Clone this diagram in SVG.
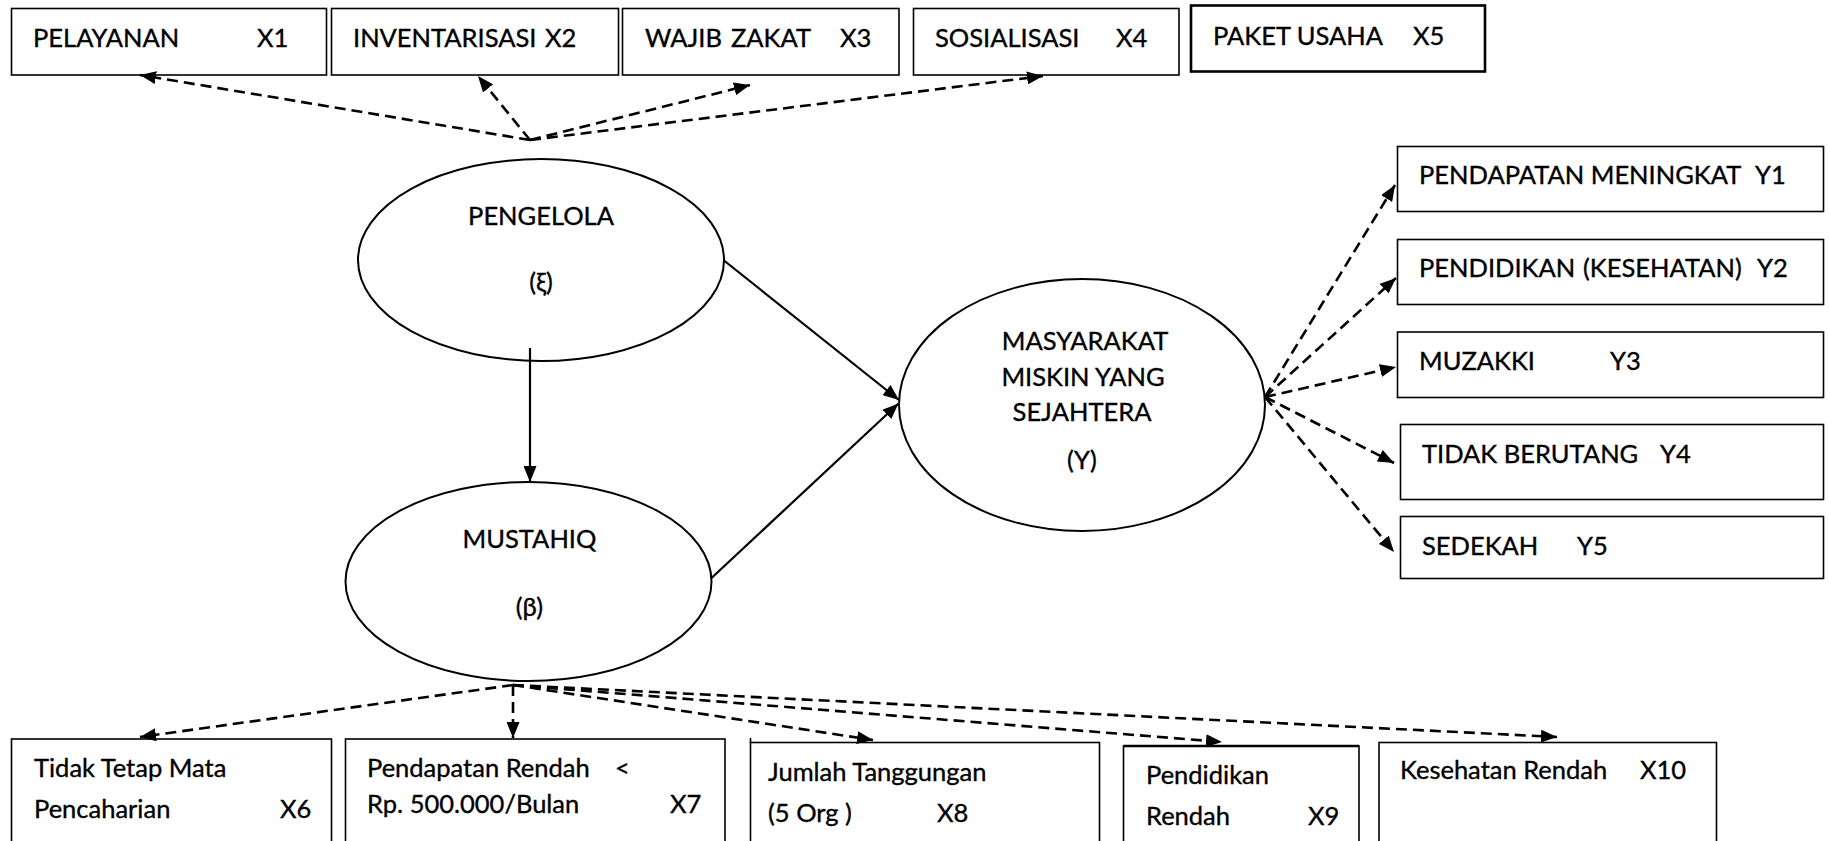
<svg xmlns="http://www.w3.org/2000/svg" width="1829" height="841" viewBox="0 0 1829 841">
  <style>
    .box { fill: #ffffff; stroke: #000000; stroke-width: 1.6; }
    .box-thick { fill: #ffffff; stroke: #000000; stroke-width: 2.6; }
    .latent { fill: #ffffff; stroke: #000000; stroke-width: 2; }
    .lbl { font-family: Lato, "Open Sans", "Liberation Sans", sans-serif; font-size: 25.5px; fill: #000000; stroke: #000000; stroke-width: 0.35; }
    .mid { text-anchor: middle; }
    .path { fill: none; stroke: #000000; stroke-width: 2.2; }
    .load { fill: none; stroke: #000000; stroke-width: 2.6; stroke-dasharray: 11 6; }
  </style>
  <defs>
    <marker id="head" markerUnits="userSpaceOnUse" markerWidth="17" markerHeight="13" refX="16" refY="6.5" orient="auto">
      <path d="M0,0 L16,6.5 L0,13 z" fill="#000000"/>
    </marker>
  </defs>

  <rect width="1829" height="841" fill="#ffffff"/>

  <!-- exogenous indicators of PENGELOLA -->
  <g id="x1">
    <rect class="box" x="11.5" y="8.5" width="315" height="66.5"/>
    <text class="lbl" y="47"><tspan x="33">PELAYANAN</tspan><tspan x="257">X1</tspan></text>
  </g>
  <g id="x2">
    <rect class="box" x="331.5" y="8.5" width="287" height="66.5"/>
    <text class="lbl" y="47"><tspan x="353">INVENTARISASI</tspan><tspan x="545">X2</tspan></text>
  </g>
  <g id="x3">
    <rect class="box" x="622.5" y="8.5" width="276.5" height="66.5"/>
    <text class="lbl" y="47"><tspan x="645">WAJIB</tspan><tspan x="731">ZAKAT</tspan><tspan x="840">X3</tspan></text>
  </g>
  <g id="x4">
    <rect class="box" x="913.5" y="8.5" width="265.5" height="66.5"/>
    <text class="lbl" y="47"><tspan x="935">SOSIALISASI</tspan><tspan x="1116">X4</tspan></text>
  </g>
  <g id="x5">
    <rect class="box-thick" x="1191" y="5.5" width="294" height="66"/>
    <text class="lbl" y="45"><tspan x="1213">PAKET USAHA</tspan><tspan x="1413">X5</tspan></text>
  </g>

  <!-- latent variables -->
  <g id="pengelola">
    <ellipse class="latent" cx="541" cy="260" rx="183" ry="101"/>
    <text class="lbl mid" x="541" y="225">PENGELOLA</text>
    <text class="lbl mid" x="541" y="291">(ξ)</text>
  </g>
  <g id="mustahiq">
    <ellipse class="latent" cx="528.5" cy="581.5" rx="183" ry="99.5"/>
    <text class="lbl mid" x="529.5" y="547.5">MUSTAHIQ</text>
    <text class="lbl mid" x="529.5" y="616">(β)</text>
  </g>
  <g id="sejahtera">
    <ellipse class="latent" cx="1082" cy="405" rx="183" ry="126"/>
    <text class="lbl mid" x="1085" y="350">MASYARAKAT</text>
    <text class="lbl mid" x="1083" y="386">MISKIN YANG</text>
    <text class="lbl mid" x="1082" y="421">SEJAHTERA</text>
    <text class="lbl mid" x="1082" y="469">(Y)</text>
  </g>

  <!-- endogenous indicators -->
  <g id="y1">
    <rect class="box" x="1397.5" y="146.5" width="426" height="65"/>
    <text class="lbl" y="184"><tspan x="1419">PENDAPATAN MENINGKAT</tspan><tspan x="1755">Y1</tspan></text>
  </g>
  <g id="y2">
    <rect class="box" x="1397.5" y="239.5" width="426" height="65"/>
    <text class="lbl" y="277"><tspan x="1419">PENDIDIKAN</tspan><tspan x="1583">(KESEHATAN)</tspan><tspan x="1757">Y2</tspan></text>
  </g>
  <g id="y3">
    <rect class="box" x="1397.5" y="332" width="426" height="65.5"/>
    <text class="lbl" y="370"><tspan x="1419">MUZAKKI</tspan><tspan x="1610">Y3</tspan></text>
  </g>
  <g id="y4">
    <rect class="box" x="1400.5" y="424.5" width="423" height="75"/>
    <text class="lbl" y="462.5"><tspan x="1422">TIDAK BERUTANG</tspan><tspan x="1660">Y4</tspan></text>
  </g>
  <g id="y5">
    <rect class="box" x="1400.5" y="516.5" width="423" height="62"/>
    <text class="lbl" y="555"><tspan x="1422">SEDEKAH</tspan><tspan x="1577">Y5</tspan></text>
  </g>

  <!-- indicators of MUSTAHIQ -->
  <g id="x6">
    <rect class="box" x="11.5" y="739" width="320" height="110"/>
    <text class="lbl" x="34" y="777">Tidak Tetap Mata</text>
    <text class="lbl" y="818"><tspan x="34">Pencaharian</tspan><tspan x="280">X6</tspan></text>
  </g>
  <g id="x7">
    <rect class="box" x="345.5" y="739" width="379.5" height="110"/>
    <text class="lbl" y="777"><tspan x="367">Pendapatan Rendah</tspan><tspan x="615">&lt;</tspan></text>
    <text class="lbl" y="813"><tspan x="367">Rp. 500.000/Bulan</tspan><tspan x="670">X7</tspan></text>
  </g>
  <g id="x8">
    <rect class="box" x="750.5" y="742.5" width="349" height="110"/>
    <line class="box" x1="750.5" y1="738" x2="750.5" y2="743"/>
    <text class="lbl" x="768" y="780.5">Jumlah Tanggungan</text>
    <text class="lbl" y="821.5"><tspan x="768">(5 Org )</tspan><tspan x="937">X8</tspan></text>
  </g>
  <g id="x9">
    <rect class="box" x="1123.5" y="746" width="235.5" height="110"/>
    <line x1="1123.5" y1="746" x2="1359" y2="746" stroke="#000000" stroke-width="2.6"/>
    <text class="lbl" x="1146" y="784">Pendidikan</text>
    <text class="lbl" y="825"><tspan x="1146">Rendah</tspan><tspan x="1308">X9</tspan></text>
  </g>
  <g id="x10">
    <rect class="box" x="1379" y="742.5" width="337.5" height="110"/>
    <text class="lbl" y="779"><tspan x="1400">Kesehatan Rendah</tspan><tspan x="1640">X10</tspan></text>
  </g>

  <!-- connectors -->
  <g id="connectors">
    <!-- structural paths -->
    <line class="path" x1="530" y1="348" x2="530" y2="482" marker-end="url(#head)"/>
    <line class="path" x1="724" y1="260.5" x2="899" y2="400" marker-end="url(#head)"/>
    <line class="path" x1="711.5" y1="578" x2="898.5" y2="403.5" marker-end="url(#head)"/>
    <!-- loadings: PENGELOLA -->
    <line class="load" x1="530" y1="140" x2="140" y2="75" marker-end="url(#head)"/>
    <line class="load" x1="530" y1="140" x2="478" y2="76" marker-end="url(#head)"/>
    <line class="load" x1="530" y1="140" x2="750" y2="85" marker-end="url(#head)"/>
    <line class="load" x1="530" y1="140" x2="1043" y2="76" marker-end="url(#head)"/>
    <!-- loadings: MASYARAKAT MISKIN YANG SEJAHTERA -->
    <line class="load" x1="1265" y1="397" x2="1395" y2="185" marker-end="url(#head)"/>
    <line class="load" x1="1265" y1="397" x2="1396" y2="278" marker-end="url(#head)"/>
    <line class="load" x1="1265" y1="397" x2="1396" y2="367" marker-end="url(#head)"/>
    <line class="load" x1="1265" y1="397" x2="1394" y2="463" marker-end="url(#head)"/>
    <line class="load" x1="1265" y1="397" x2="1394" y2="552" marker-end="url(#head)"/>
    <!-- loadings: MUSTAHIQ -->
    <line class="load" x1="513" y1="685" x2="140" y2="737" marker-end="url(#head)"/>
    <line class="load" x1="513" y1="685" x2="513" y2="738" marker-end="url(#head)"/>
    <line class="load" x1="513" y1="685" x2="873" y2="740" marker-end="url(#head)"/>
    <line class="load" x1="513" y1="685" x2="1222" y2="742" marker-end="url(#head)"/>
    <line class="load" x1="513" y1="685" x2="1557" y2="737" marker-end="url(#head)"/>
  </g>
</svg>
